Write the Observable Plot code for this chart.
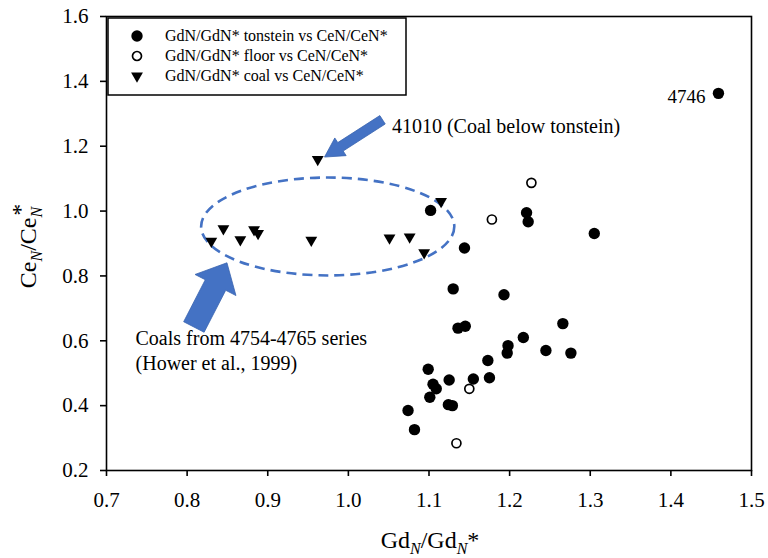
<!DOCTYPE html>
<html><head><meta charset="utf-8">
<script src="https://cdn.jsdelivr.net/npm/d3@7"></script>
<script src="https://cdn.jsdelivr.net/npm/@observablehq/plot@0.6"></script>
<style>body{margin:0;background:#fff}#chart{width:768px;height:558px}</style>
</head><body><div id="chart"></div>
<script>
// ---- data ----
const tonsteinGd = [1.102,1.144,1.130,1.193,1.221,1.223,1.305,1.136,1.145,1.266,1.217,1.198,1.197,1.245,1.276,1.173,1.175,1.155,1.099,1.125,1.105,1.109,1.101,1.124,1.129,1.074,1.082,1.459];
const tonsteinCe = [1.002,0.886,0.760,0.742,0.995,0.967,0.931,0.639,0.645,0.653,0.610,0.585,0.562,0.570,0.562,0.539,0.486,0.482,0.512,0.479,0.466,0.452,0.426,0.403,0.400,0.385,0.326,1.363];
const floorGd = [1.227,1.178,1.150,1.134];
const floorCe = [1.087,0.974,0.452,0.284];
const coalGd = [0.830,0.845,0.866,0.883,0.888,0.954,1.051,1.076,1.094,1.115,0.962];
const coalCe = [0.907,0.946,0.912,0.943,0.931,0.910,0.917,0.920,0.872,1.030,1.159];
const xTicks = [0.7,0.8,0.9,1.0,1.1,1.2,1.3,1.4,1.5];
const yTicks = [0.2,0.4,0.6,0.8,1.0,1.2,1.4,1.6];
const legendLabels = ["GdN/GdN* tonstein vs CeN/CeN*","GdN/GdN* floor vs CeN/CeN*","GdN/GdN* coal vs CeN/CeN*"];
const pointLabel = {gd: 1.459, ce: 1.363, text: "4746"};
const note41010 = {gd: 1.054, ce: 1.262, text: "41010 (Coal below tonstein)"};
const noteCoals = {gd: 0.736, ce: 0.640, text: "Coals from 4754-4765 series\n(Hower et al., 1999)"};
const ellipseSpec = {gd: 0.975, ce: 0.951, rGd: 0.157, rCe: 0.151};
const arrowSpecs = [
  {fromGd: 1.043, fromCe: 1.280, toGd: 0.971, toCe: 1.165, shaft: 10, head: 21, headLen: 19},
  {fromGd: 0.809, fromCe: 0.641, toGd: 0.850, toCe: 0.839, shaft: 23, head: 46, headLen: 25}
];

const tonstein = tonsteinGd.map((g,i)=>({gd:g, ce:tonsteinCe[i]}));
const floor = floorGd.map((g,i)=>({gd:g, ce:floorCe[i]}));
const coal = coalGd.map((g,i)=>({gd:g, ce:coalCe[i]}));

const FONT = "Liberation Serif, Times New Roman, serif";
const BLUE = "#4472C4";

function ellipseMark(index, scales) {
  const cx = scales.x(ellipseSpec.gd), cy = scales.y(ellipseSpec.ce);
  const rx = Math.abs(scales.x(ellipseSpec.gd + ellipseSpec.rGd) - cx);
  const ry = Math.abs(scales.y(ellipseSpec.ce + ellipseSpec.rCe) - cy);
  const g = d3.create("svg:g");
  g.append("ellipse").attr("cx",cx).attr("cy",cy).attr("rx",rx).attr("ry",ry)
    .attr("fill","none").attr("stroke",BLUE).attr("stroke-width",2.6).attr("stroke-dasharray","10,6");
  return g.node();
}
function arrowMark(index, scales) {
  const g = d3.create("svg:g");
  for (const a of arrowSpecs) {
    const sx = scales.x(a.fromGd), sy = scales.y(a.fromCe);
    const tx = scales.x(a.toGd), ty = scales.y(a.toCe);
    const L = Math.hypot(tx-sx, ty-sy);
    const ux = (tx-sx)/L, uy = (ty-sy)/L, nx = -uy, ny = ux;
    const bx = tx-ux*a.headLen, by = ty-uy*a.headLen;
    const s = a.shaft/2, h = a.head/2;
    const pts = [[sx+nx*s,sy+ny*s],[bx+nx*s,by+ny*s],[bx+nx*h,by+ny*h],[tx,ty],[bx-nx*h,by-ny*h],[bx-nx*s,by-ny*s],[sx-nx*s,sy-ny*s]];
    g.append("polygon").attr("points", pts.map(p=>p.join(",")).join(" ")).attr("fill",BLUE).attr("stroke","#3a64b0").attr("stroke-width",0.8);
  }
  return g.node();
}

const plot = Plot.plot({
  width: 768, height: 558,
  marginLeft: 106, marginRight: 17, marginTop: 16, marginBottom: 88,
  style: {fontFamily: FONT, fontSize: "21px", background: "white", color: "black", overflow: "visible"},
  x: {domain: [0.7, 1.5], ticks: xTicks, tickFormat: d3.format(".1f"), label: null},
  y: {domain: [0.2, 1.6], ticks: yTicks, tickFormat: d3.format(".1f"), label: null},
  marks: [
    ellipseMark,
    Plot.frame({stroke: "black", strokeWidth: 1.6}),
    Plot.axisX({ticks: xTicks, tickFormat: d3.format(".1f"), tickSize: 6, tickPadding: 16, fontSize: 21, label: null, strokeWidth: 1.6}),
    Plot.axisY({ticks: yTicks, tickFormat: d3.format(".1f"), tickSize: 6, tickPadding: 12, fontSize: 21, label: null, strokeWidth: 1.6}),
    Plot.dot(tonstein, {x: "gd", y: "ce", r: 5.7, fill: "black", stroke: "none"}),
    Plot.dot(floor, {x: "gd", y: "ce", r: 4.5, fill: "white", stroke: "black", strokeWidth: 1.7}),
    Plot.dot(coal, {x: "gd", y: "ce", r: 4.4, symbol: "triangle", rotate: 180, fill: "black", stroke: "none"}),
    arrowMark,
    Plot.text([pointLabel], {x: "gd", y: "ce", text: "text", textAnchor: "end", dx: -13, dy: 4, fontSize: 19, fill: "black"}),
    Plot.text([note41010], {x: "gd", y: "ce", text: "text", textAnchor: "start", fontSize: 20, fill: "black"}),
    Plot.text([noteCoals], {x: "gd", y: "ce", text: "text", textAnchor: "start", lineAnchor: "top", lineHeight: 1.22, fontSize: 20, fill: "black"})
  ]
});
document.getElementById("chart").appendChild(plot);

const svg = d3.select(plot);
svg.selectAll("text").style("font-family", FONT);

// axis titles with subscripts
const xt = svg.append("text").attr("x", 430).attr("y", 548).attr("text-anchor","middle")
  .style("font-family", FONT).attr("font-size", 24).attr("fill","black");
xt.append("tspan").text("Gd");
xt.append("tspan").attr("font-size",16).attr("font-style","italic").attr("dy",6).text("N");
xt.append("tspan").attr("dy",-6).text("/Gd");
xt.append("tspan").attr("font-size",16).attr("font-style","italic").attr("dy",6).text("N");
xt.append("tspan").attr("dy",-6).text("*");

const yt = svg.append("text").attr("transform","translate(36,246) rotate(-90)").attr("text-anchor","middle")
  .style("font-family", FONT).attr("font-size", 24).attr("fill","black");
yt.append("tspan").text("Ce");
yt.append("tspan").attr("font-size",16).attr("font-style","italic").attr("dy",6).text("N");
yt.append("tspan").attr("dy",-6).text("/Ce");
yt.append("tspan").attr("font-size",16).attr("font-style","italic").attr("dy",6).text("N");
yt.append("tspan").attr("dx",-9).attr("dy",-14).text("*");

// legend box (inside plot, top-left)
const lg = svg.append("g").style("font-family", FONT).attr("font-size", 16).attr("text-anchor","start");
lg.append("rect").attr("x",108).attr("y",18).attr("width",298).attr("height",77)
  .attr("fill","white").attr("stroke","black").attr("stroke-width",1.5);
const symbols = [
  g => g.append("circle").attr("r",5.7).attr("fill","black"),
  g => g.append("circle").attr("r",4.5).attr("fill","white").attr("stroke","black").attr("stroke-width",1.7),
  g => g.append("path").attr("d", d3.symbol(d3.symbolTriangle, Math.PI*4.4*4.4)()).attr("transform","rotate(180)").attr("fill","black")
];
legendLabels.forEach((lab,i) => {
  const row = lg.append("g").attr("transform", `translate(0,${36 + i*20})`);
  symbols[i](row.append("g").attr("transform","translate(137,0)"));
  row.append("text").attr("x",165).attr("y",5).attr("text-anchor","start").attr("fill","black").text(lab);
});
</script>
</body></html>
